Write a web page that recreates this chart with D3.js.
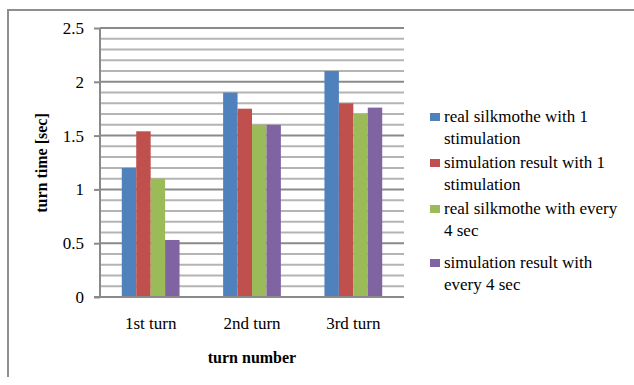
<!DOCTYPE html>
<html>
<head>
<meta charset="utf-8">
<script src="https://cdn.jsdelivr.net/npm/d3@7"></script>
</head>
<body style="margin:0;background:#fff">
<svg id="chart" width="634" height="385" style="display:block"></svg>
<script>
// Turn times per turn for each experiment / simulation series
const categories = ["1st turn", "2nd turn", "3rd turn"];
const seriesNames = [
  "real silkmothe with 1 stimulation",
  "simulation result with 1 stimulation",
  "real silkmothe with every 4 sec",
  "simulation result with every 4 sec"
];
const realOneStim = [1.2, 1.9, 2.1];
const simOneStim = [1.54, 1.75, 1.8];
const realEvery4 = [1.1, 1.6, 1.7];
const simEvery4 = [0.53, 1.6, 1.76];
const yTicks = [0, 0.5, 1, 1.5, 2, 2.5];
const legendLines = [
  ["real silkmothe with 1", "stimulation"],
  ["simulation result with 1", "stimulation"],
  ["real silkmothe with every", "4 sec"],
  ["simulation result with", "every 4 sec"]
];
const colors = ["#4F81BD", "#C0504D", "#9BBB59", "#8064A2"];

const seriesValues = [realOneStim, simOneStim, realEvery4, simEvery4];
const FONT = "'Liberation Serif', 'Times New Roman', serif";

const svg = d3.select("#chart");

function label(sel) {
  return sel.style("font-family", FONT).attr("fill", "#000");
}

// Outer frame (top and left edges are visible)
svg.append("path")
  .attr("d", "M8,377 L8,10 L634,10")
  .attr("fill", "none")
  .attr("stroke", "#8e8e8e")
  .attr("stroke-width", 2);

const plot = { left: 100, right: 404, top: 28, bottom: 297 };

const y = d3.scaleLinear().domain([0, 2.5]).range([plot.bottom, plot.top]);
const x0 = d3.scaleBand().domain(categories).range([plot.left, plot.right]).paddingInner(0.43).paddingOuter(0.215);
const x1 = d3.scaleBand().domain(d3.range(seriesNames.length)).range([0, x0.bandwidth()]);

// Minor gridlines every 0.1
const minor = d3.range(0, 2.5001, 0.1).filter(v => Math.abs(v * 2 - Math.round(v * 2)) > 1e-6);
svg.append("g").selectAll("line").data(minor).join("line")
  .attr("x1", plot.left).attr("x2", plot.right)
  .attr("y1", d => y(d)).attr("y2", d => y(d))
  .attr("stroke", "#b4b4b4").attr("stroke-width", 2);

// Major gridlines
svg.append("g").selectAll("line").data(yTicks.filter(d => d > 0)).join("line")
  .attr("x1", plot.left).attr("x2", plot.right)
  .attr("y1", d => y(d)).attr("y2", d => y(d))
  .attr("stroke", "#8a8a8a").attr("stroke-width", 2);

// Bars
const groups = svg.append("g").selectAll("g").data(categories).join("g")
  .attr("transform", d => `translate(${x0(d)},0)`);
groups.selectAll("rect")
  .data((c, i) => seriesValues.map((vals, s) => ({ s, v: vals[i] })))
  .join("rect")
  .attr("x", d => x1(d.s))
  .attr("width", x1.bandwidth())
  .attr("y", d => y(d.v))
  .attr("height", d => y(0) - y(d.v))
  .attr("fill", d => colors[d.s]);

// Y axis
const yAxis = svg.append("g")
  .attr("transform", `translate(${plot.left},0)`)
  .call(d3.axisLeft(y).tickValues(yTicks).tickFormat(d3.format("")).tickSize(6).tickPadding(10));
yAxis.attr("font-family", null).attr("font-size", null);
yAxis.select(".domain").attr("stroke", "#8a8a8a").attr("stroke-width", 2)
  .attr("d", `M0,${plot.bottom}V${plot.top}`);
yAxis.selectAll(".tick line").attr("stroke", "#8a8a8a").attr("stroke-width", 2);
label(yAxis.selectAll(".tick text")).style("font-size", "17px");

// X axis baseline
svg.append("line")
  .attr("x1", plot.left - 6).attr("x2", plot.right)
  .attr("y1", y(0)).attr("y2", y(0))
  .attr("stroke", "#8a8a8a").attr("stroke-width", 2);

// Category labels
label(svg.append("g").selectAll("text").data(categories).join("text")
  .attr("x", d => x0(d) + x0.bandwidth() / 2)
  .attr("y", 329)
  .attr("text-anchor", "middle")
  .text(d => d)).style("font-size", "17px");

// Axis titles
label(svg.append("text")
  .attr("x", (plot.left + plot.right) / 2)
  .attr("y", 363)
  .attr("text-anchor", "middle")
  .text("turn number")).style("font-size", "16px").style("font-weight", "bold");

label(svg.append("text")
  .attr("transform", `translate(47,163) rotate(-90)`)
  .attr("text-anchor", "middle")
  .text("turn time [sec]")).style("font-size", "16px").style("font-weight", "bold");

// Legend
const legend = svg.append("g");
const legendTop = [117, 163, 209, 263];
seriesNames.forEach((name, i) => {
  const g = legend.append("g").attr("transform", `translate(430,${legendTop[i]})`);
  g.append("rect").attr("x", 0).attr("y", -4).attr("width", 10).attr("height", 8).attr("fill", colors[i]);
  label(g.append("text").attr("x", 14).attr("y", 5).text(legendLines[i][0])).style("font-size", "17px");
  label(g.append("text").attr("x", 14).attr("y", 27).text(legendLines[i][1])).style("font-size", "17px");
});
</script>
</body>
</html>
